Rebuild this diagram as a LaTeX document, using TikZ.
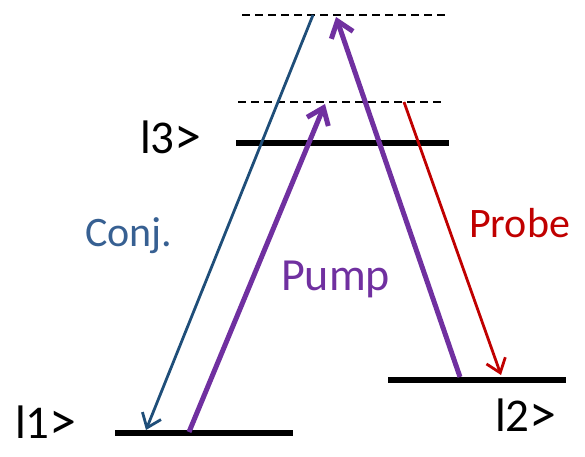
\documentclass[tikz,border=0pt]{standalone}
\usepackage{fontspec}
\setmainfont{Carlito}
\usetikzlibrary{arrows.meta}
\definecolor{cpurple}{HTML}{7030A0}
\definecolor{cred}{HTML}{C00000}
\definecolor{cblue}{HTML}{1F4E79}
\definecolor{cbluetext}{HTML}{376092}
\tikzset{
  every picture/.style={x=1pt, y=-1pt},
  level/.style={line width=6.5pt},
  virtual/.style={line width=1.4pt, dash pattern=on 8pt off 5pt},
  pumpbeam/.style={draw=cpurple, line width=5pt, -{Straight Barb[length=15pt, width=23pt]}},
  thinbeam/.style={line width=2.8pt, -{Straight Barb[length=13pt, width=20pt]}},
  statelabel/.style={anchor=base west, inner sep=0pt, font=\fontsize{47}{50}\selectfont},
  beamlabel/.style={anchor=base west, inner sep=0pt, font=\fontsize{42}{46}\selectfont},
}

\begin{document}
\begin{tikzpicture}
  \useasboundingbox (0,0) rectangle (585,456);
  % levels
  \draw[virtual] (242,15) -- (447,15);
  \draw[virtual] (238,102) -- (442,102);
  \draw[level] (236,143) -- (449,143);
  \draw[level] (115,433) -- (293,433);
  \draw[level] (388,380) -- (566,380);
  \node[statelabel] (s3) at (140,153) {l3{\fontsize{54}{56}\selectfont\raisebox{-1pt}{>}}};
  \node[statelabel] (s1) at (15,438) {l1{\fontsize{54}{56}\selectfont\raisebox{-1pt}{>}}};
  \node[statelabel] (s2) at (495,431) {l2{\fontsize{54}{56}\selectfont\raisebox{-1pt}{>}}};
  % beam end points
  \coordinate (conjtop) at (313,15);
  \coordinate (conjbot) at (146,430);
  \coordinate (pumpabot) at (189,432);
  \coordinate (pumpatop) at (325,104);
  \coordinate (pumpbbot) at (460,377);
  \coordinate (pumpbtop) at (336,17);
  \coordinate (probetop) at (404,102);
  \coordinate (probebot) at (501,375);
  % beams
  \draw[thinbeam, draw=cblue] (conjtop) -- (conjbot);
  \draw[pumpbeam] (pumpabot) -- (pumpatop);
  \draw[pumpbeam] (pumpbbot) -- (pumpbtop);
  \draw[thinbeam, draw=cred] (probetop) -- (probebot);
  \node[beamlabel, text=cbluetext] (conj) at (85,246) {Conj.};
  \node[beamlabel, text=cred] (probe) at (469,237) {Probe};
  \node[beamlabel, text=cpurple, font=\fontsize{46}{50}\selectfont] (pump) at (281,290) {Pump};
\end{tikzpicture}
\end{document}
